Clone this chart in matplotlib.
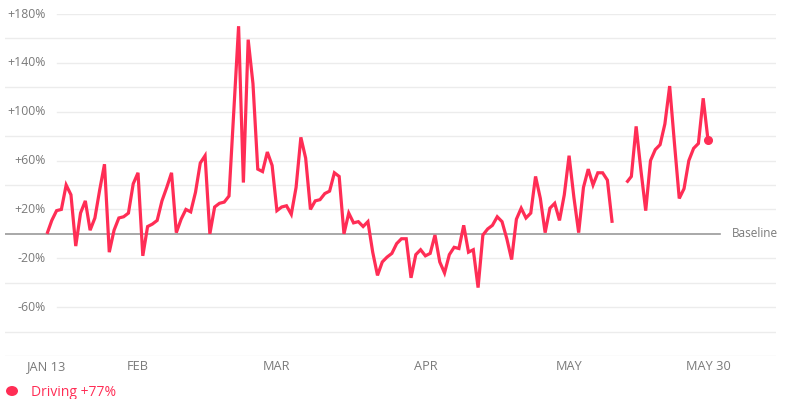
import numpy as np
import matplotlib

matplotlib.use("Agg")
import matplotlib.pyplot as plt
from matplotlib.patches import Ellipse

plt.rcParams["font.family"] = ["Open Sans", "DejaVu Sans"]

# daily change vs. baseline, Jan 13 .. May 30 (May 11-12 missing)
driving = [
    0, 11, 19, 20, 40, 32, -10, 17, 27, 3,
    13, 36, 57, -15, 3, 13, 14, 17, 41, 50,
    -18, 6, 8, 11, 27, 38, 50, 1, 12, 20,
    18, 34, 58, 64, 0, 22, 25, 26, 31, 100,
    170, 42, 159, 123, 53, 51, 67, 56, 19, 22,
    23, 16, 38, 79, 62, 20, 27, 28, 33, 35,
    50, 47, 0, 17, 9, 10, 6, 10, -15, -34,
    -23, -19, -16, -8, -4, -4, -36, -17, -13, -18,
    -16, -1, -23, -32, -17, -11, -12, 7, -15, -13,
    -44, -1, 4, 7, 14, 10, -4, -21, 12, 21,
    13, 17, 47, 29, 1, 21, 25, 11, 32, 64,
    30, 1, 38, 53, 40, 50, 50, 44, 9, np.nan,
    np.nan, 42, 47, 88, 52, 19, 60, 69, 73, 90,
    121, 74, 29, 37, 60, 70, 74, 111, 77,
]
tick_days = [0, 19, 48, 79, 109, 138]
tick_labels = ["JAN 13", "FEB", "MAR", "APR", "MAY", "MAY 30"]
grid_levels = list(range(-100, 181, 20))
labeled_levels = [180, 140, 100, 60, 20, -20, -60]

RED = "#FF2D55"
GRAY = "#7a7a7a"

W, H = 789, 399
fig = plt.figure(figsize=(W / 100, H / 100), dpi=100)
fig.patch.set_facecolor("white")
ax = fig.add_axes([5 / W, (H - 356) / H, 771 / W, (356 - 14) / H])
ax.set_xlim(-8.77, 152.2)
ax.set_ylim(-100, 180)
for s in ax.spines.values():
    s.set_visible(False)

def fx(px):
    return (px - 5) / 771

for lv in grid_levels:
    if lv == 0:
        ax.axhline(0, xmin=0, xmax=fx(720), color="#9a9a9a", lw=1.2, zorder=2)
    else:
        start = fx(57) if lv in labeled_levels else 0
        ax.axhline(lv, xmin=start, xmax=1, color="#ececec", lw=1.0, zorder=1)

for lv in labeled_levels:
    ax.text(fx(46), lv, f"{lv:+d}%", transform=ax.get_yaxis_transform(),
            ha="right", va="center", fontsize=8.8, color=GRAY)

ax.text(fx(732), 0, "Baseline", transform=ax.get_yaxis_transform(),
        ha="left", va="center", fontsize=8.5, color=GRAY)

days = np.arange(len(driving))
vals = np.array(driving, dtype=float)
ax.plot(days, vals, color=RED, lw=2.3, solid_joinstyle="miter",
        solid_capstyle="butt", zorder=3, clip_on=False)
ax.plot(days[-1], vals[-1], "o", color=RED, ms=5.5, zorder=4, clip_on=False)

ax.set_yticks([])
ax.set_xticks(tick_days)
ax.set_xticklabels(tick_labels, fontsize=9.2, color=GRAY)
ax.tick_params(axis="x", length=0, pad=3)

fig.add_artist(Ellipse((12 / W, (H - 391) / H), 12 / W, 10 / H,
                       transform=fig.transFigure, facecolor=RED, edgecolor="none"))
fig.text(31 / W, (H - 393) / H, "Driving +77%", ha="left", va="center",
         fontsize=10, color=RED)

fig.savefig("out.png", dpi=100)
